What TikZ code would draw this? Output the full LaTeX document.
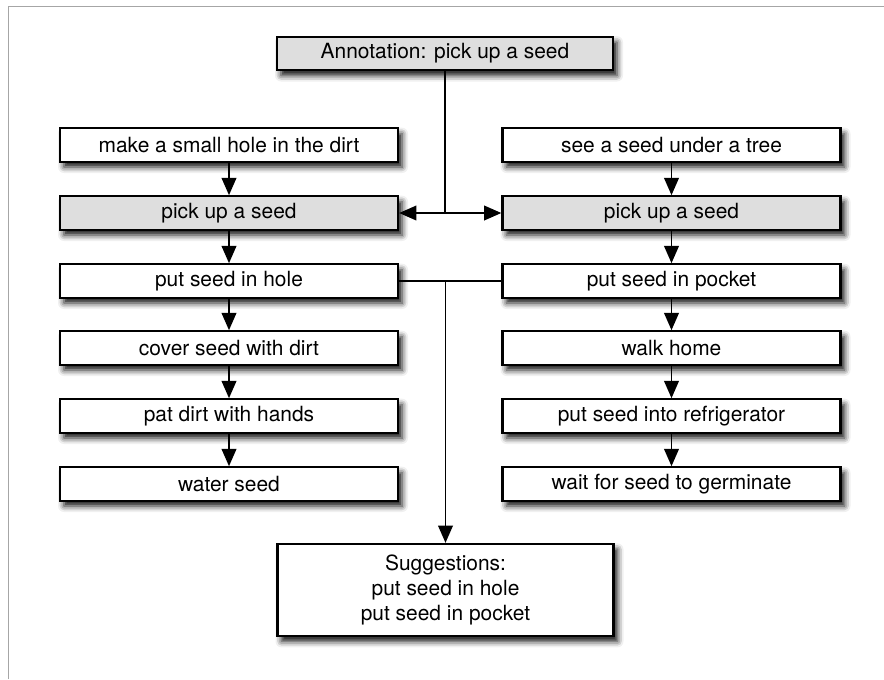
\documentclass[tikz,border=0pt]{standalone}
\usepackage{fontspec}
\setmainfont{TeX Gyre Heros}
\usetikzlibrary{arrows.meta,shadows.blur}
\begin{document}
\begin{tikzpicture}[x=0.75pt,y=-0.75pt,
  box/.style={draw=black, line width=1.7pt, fill=white, minimum width=253.5pt,
    minimum height=25pt, inner sep=0pt, font=\fontsize{15.7}{18.75}\selectfont,
    blur shadow={shadow xshift=3pt, shadow yshift=-4pt, shadow blur radius=4.5pt, shadow opacity=95}},
  graybox/.style={box, fill=black!13},
  conn/.style={line width=1.4pt},
  arr/.style={conn, -{Triangle[length=13pt,width=11pt]}}
]
\useasboundingbox (0,0) rectangle (884,679);
\draw[black!35, line width=0.6pt] (8,679) -- (8,6) -- (884,6);

\node[graybox, minimum width=252pt] (ann) at (445,53.5) {Annotation: pick up a seed};

\node[box]     (l1) at (229,145) {make a small hole in the dirt};
\node[graybox] (l2) at (229,213) {pick up a seed};
\node[box]     (l3) at (229,281) {put seed in hole};
\node[box]     (l4) at (229,348) {cover seed with dirt};
\node[box]     (l5) at (229,416) {pat dirt with hands};
\node[box]     (l6) at (229,484) {water seed};

\node[box]     (r1) at (671.5,145) {see a seed under a tree};
\node[graybox] (r2) at (671.5,213) {pick up a seed};
\node[box]     (r3) at (671.5,281) {put seed in pocket};
\node[box]     (r4) at (671.5,348) {walk home};
\node[box]     (r5) at (671.5,416) {put seed into refrigerator};
\node[box]     (r6) at (671.5,484) {wait for seed to germinate};

\node[box, minimum width=252pt, minimum height=69pt, align=center] (sug) at (445.5,590)
  {Suggestions:\\put seed in hole\\put seed in pocket};

\foreach \a/\b in {l1/l2,l2/l3,l3/l4,l4/l5,l5/l6,r1/r2,r2/r3,r3/r4,r4/r5,r5/r6}
  \draw[arr] (\a.south) -- (\b.north);

\coordinate (j1) at (ann.south |- l2.center);
\draw[conn] (ann.south) -- (j1);
\draw[arr] (j1) -- (l2.east);
\draw[arr] (j1) -- (r2.west);

\draw[conn] (l3.east) -- (r3.west);
\coordinate (j2) at (sug.north |- l3.center);
\draw[arr] (j2) -- (sug.north);
\end{tikzpicture}
\end{document}
